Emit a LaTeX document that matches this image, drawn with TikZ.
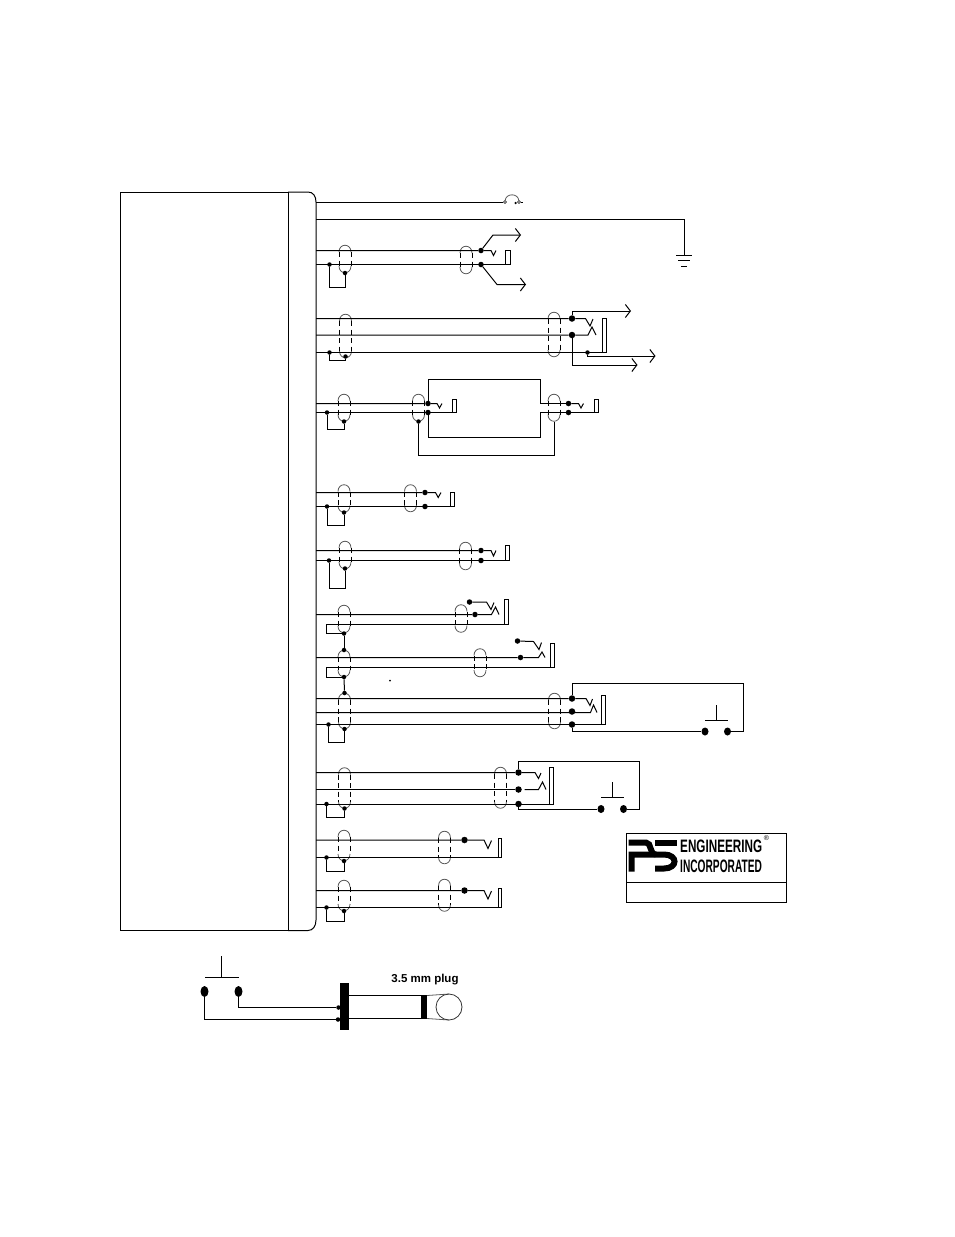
\documentclass[tikz,border=0pt]{standalone}
\usepackage{fontspec}
\usepackage{graphicx}
\setmainfont{Liberation Sans}
\usetikzlibrary{arrows.meta,shapes.geometric}

\tikzset{
  wire/.style={line width=1pt},
  feed/.style={line width=1pt,-{Straight Barb[length=5pt,width=13pt]}},
  capline/.style={line width=0.8pt,black!65},
  sideline/.style={line width=0.9pt,dash pattern=on 5pt off 3.5pt},
  smalldot/.style={circle,fill=black,inner sep=0pt,minimum size=4.5pt},
  meddot/.style={circle,fill=black,inner sep=0pt,minimum size=5.5pt},
  bigdot/.style={circle,fill=black,inner sep=0pt,minimum size=6.5pt},
  swdot/.style={ellipse,fill=black,inner sep=0pt,minimum width=7pt,minimum height=8pt},
  logostroke/.style={line width=6pt},
}

% x, top, bottom of a cable shield
\newcommand{\shield}[3]{
  \draw[capline] (#1-6,#2+7) .. controls (#1-6,#2-2) and (#1+6,#2-2) .. (#1+6,#2+7);
  \draw[capline] (#1-6,#3-7) .. controls (#1-6,#3+2) and (#1+6,#3+2) .. (#1+6,#3-7);
  \draw[sideline] (#1-6,#2+7) -- (#1-6,#3-7);
  \draw[sideline] (#1+6,#2+7) -- (#1+6,#3-7);
}

\begin{document}
\begin{tikzpicture}[x=1pt,y=-1pt]
\useasboundingbox (0,0) rectangle (954,1237);

% unit outline
\draw[wire] (120,192) rectangle (288,930.5);
\draw[wire] (288,192) -- (308,192) .. controls (313,192) and (316,196) .. (316,202)
  -- (316,920) .. controls (316,926) and (313,930.5) .. (308,930.5) -- (288,930.5);

% fuse
\coordinate (busP) at (316,202);
\node[circle,draw,inner sep=0pt,minimum size=3pt] (fuseA) at (505,202) {};
\node[circle,draw,inner sep=0pt,minimum size=3pt] (fuseB) at (519,202) {};
\coordinate (fuseEnd) at (523,202);
\node[smalldot,minimum size=2.5pt] (fuseDot) at (515.5,203) {};
\draw[wire] (busP) -- (fuseA);
\draw[wire] (fuseB) -- (fuseEnd);
\draw[capline] (fuseA) .. controls (506,193) and (518,193) .. (fuseB);

% ground
\coordinate (busG) at (316,219);
\coordinate (gndTop) at (684,255);
\draw[wire] (busG) -| (gndTop);
\draw[wire] (676,255) -- (692,255);
\draw[wire] (678,260.5) -- (690,260.5);
\draw[wire] (681,266) -- (687,266);

% row A
\shield{345}{245}{273}
\shield{466}{246}{274}
\coordinate (busA1) at (316,250.5);
\coordinate (busA2) at (316,264.5);
\node[meddot] (termA1) at (481,250.5) {};
\node[meddot] (termA2) at (481,264.5) {};
\node[smalldot] (gndA) at (329.5,264.5) {};
\node[smalldot] (shA) at (345,273) {};
\coordinate (loopA) at (345,287);
\draw[wire] (busA1) -- (termA1) -- (491,250.5) -- (493.5,255.5) -- (496,250.5);
\draw[wire] (busA2) -- (510,264.5);
\draw[wire] (505.5,250.5) rectangle (510,264.5);
\draw[wire] (gndA) |- (loopA) -- (shA);
\draw[feed] (termA1) -- (493,235) -- (521,235);
\draw[feed] (termA2) -- (497,284.5) -- (526,284.5);

% row B
\shield{345.5}{314}{358}
\shield{554}{312}{357}
\coordinate (busB1) at (316,318.5);
\coordinate (busB2) at (316,335);
\coordinate (busB3) at (316,352.5);
\node[bigdot] (termB1) at (572,318.5) {};
\node[bigdot] (termB2) at (572,335) {};
\node[smalldot] (termB3) at (587.5,352.5) {};
\node[smalldot] (gndB) at (329.5,352.5) {};
\node[smalldot] (shB) at (345.5,356.5) {};
\coordinate (loopB) at (345.5,360.5);
\draw[wire] (busB1) -- (termB1) -- (585.5,318.5) -- (590,326) -- (593,319);
\draw[wire] (busB2) -- (termB2) -- (588,335) -- (592,327) -- (596,335);
\draw[wire] (busB3) -- (606.5,352.5);
\draw[wire] (602,318.5) rectangle (606.5,352.5);
\draw[wire] (gndB) |- (loopB) -- (shB);
\draw[feed] (termB1) |- (631,311);
\draw[feed] (termB2) |- (637.5,365);
\draw[feed] (termB3) |- (655.5,356);

% row C
\shield{344}{394}{421.5}
\shield{418.5}{394}{421.5}
\shield{554}{394}{421.5}
\coordinate (busC1) at (316,403.5);
\coordinate (busC2) at (316,412.5);
\node[meddot] (termC1) at (428,403.5) {};
\node[meddot] (termC2) at (428,412.5) {};
\node[meddot] (termC3) at (568.5,403.5) {};
\node[meddot] (termC4) at (568.5,412.5) {};
\node[smalldot] (gndC) at (327,412.5) {};
\node[smalldot] (shC) at (344,421.5) {};
\node[smalldot] (shCa) at (418.5,421.5) {};
\coordinate (shCb) at (554,421.5);
\coordinate (loopC) at (344,429.5);
\coordinate (loopCb) at (554,455.5);
\draw[wire] (busC1) -- (termC1) -- (437,403.5) -- (439.5,408) -- (442,403.5);
\draw[wire] (busC2) -- (456.5,412.5);
\draw[wire] (452.5,399) rectangle (456.5,412.5);
\draw[wire] (termC1) |- (540.5,379.5) |- (termC3);
\draw[wire] (termC2) |- (540.5,437.5) |- (termC4);
\draw[wire] (termC3) -- (578.5,403.5) -- (581,408) -- (583.5,403.5);
\draw[wire] (termC4) -- (598,412.5);
\draw[wire] (594,399) rectangle (598,412.5);
\draw[wire] (gndC) |- (loopC) -- (shC);
\draw[wire] (shCa) |- (loopCb) -- (shCb);

% row D
\shield{344}{484.5}{512.5}
\shield{410.5}{484.5}{512}
\coordinate (busD1) at (316,492.5);
\coordinate (busD2) at (316,506.5);
\node[meddot] (termD1) at (425,492.5) {};
\node[meddot] (termD2) at (425,506.5) {};
\node[smalldot] (gndD) at (327,506.5) {};
\node[smalldot] (shD) at (344,512.5) {};
\coordinate (loopD) at (344,525.5);
\draw[wire] (busD1) -- (termD1) -- (435.5,492.5) -- (438.2,497.5) -- (441,492.5);
\draw[wire] (busD2) -- (454,506.5);
\draw[wire] (450.5,492.5) rectangle (454,506.5);
\draw[wire] (gndD) |- (loopD) -- (shD);

% row E
\shield{345}{541}{569}
\shield{465.5}{542}{570}
\coordinate (busE1) at (316,550.5);
\coordinate (busE2) at (316,560.5);
\node[meddot] (termE1) at (481,550.5) {};
\node[meddot] (termE2) at (481,560.5) {};
\node[smalldot] (gndE) at (329,560.5) {};
\node[smalldot] (shE) at (345,568.5) {};
\coordinate (loopE) at (345,588.5);
\draw[wire] (busE1) -- (termE1) -- (491,550.5) -- (493.5,556) -- (496,550.5);
\draw[wire] (busE2) -- (509,560.5);
\draw[wire] (505.5,545) rectangle (509,560.5);
\draw[wire] (gndE) |- (loopE) -- (shE);

% row F
\shield{344}{605}{633}
\shield{461}{604.5}{632.5}
\coordinate (busF) at (316,614.5);
\node[meddot] (termF1) at (469.5,602) {};
\node[meddot] (termF2) at (475,614.5) {};
\node[smalldot] (shF) at (344,633.5) {};
\coordinate (retF) at (326,624.5);
\draw[wire] (busF) -- (termF2) -- (491.5,614.5) -- (495.5,607) -- (499,614.5);
\draw[wire] (termF1) -- (486.5,602) -- (491,609.5) -- (494,602.5);
\draw[wire] (504.5,599.5) rectangle (508.5,624.5);
\draw[wire] (508.5,624.5) -- (retF) |- (shF);

% row G
\shield{344}{650}{677}
\shield{480}{648.5}{677}
\coordinate (busG1) at (316,657.5);
\node[meddot] (termG1) at (517.5,641) {};
\node[meddot] (termG2) at (520.5,657.5) {};
\node[smalldot] (shGt) at (344,650) {};
\node[smalldot] (shGb) at (344,677) {};
\coordinate (retG) at (326,667.5);
\draw[wire] (shF) -- (shGt);
\draw[wire] (busG1) -- (termG2) -- (538.5,657.5) -- (542,652) -- (545,657.5);
\draw[wire] (termG1) -- (533.5,641.5) -- (539,649.5) -- (541.5,642.5);
\draw[wire] (550.5,643.5) rectangle (554.5,667.5);
\draw[wire] (554.5,667.5) -- (retG) |- (shGb);
\node[smalldot,minimum size=2pt] (specG) at (390,680.5) {};

% row H
\shield{344.5}{693}{729}
\shield{554.5}{693}{729}
\coordinate (busH1) at (316,698.5);
\coordinate (busH2) at (316,712.5);
\coordinate (busH3) at (316,724.5);
\node[smalldot] (shHt) at (344.5,693) {};
\node[smalldot] (shHb) at (344.5,729) {};
\node[smalldot] (gndH) at (328.5,724.5) {};
\node[bigdot] (termH1) at (572,698.5) {};
\node[bigdot] (termH2) at (572,711.5) {};
\node[bigdot] (termH3) at (572,724.5) {};
\node[swdot] (swHa) at (705,731.5) {};
\node[swdot] (swHb) at (727.5,731.5) {};
\coordinate (loopH) at (344.5,742.5);
\draw[wire] (shGb) -- (shHt);
\draw[wire] (busH1) -- (termH1) -- (586,698.5) -- (590,705.5) -- (592.5,699);
\draw[wire] (busH2) -- (590.5,712.5) -- (593.5,705) -- (597,712.5);
\draw[wire] (busH3) -- (605.5,724.5);
\draw[wire] (601.5,695.5) rectangle (605.5,724.5);
\draw[wire] (termH1) |- (743.5,683.5) |- (swHb);
\draw[wire] (termH3) |- (swHa);
\draw[wire] (705,720.5) -- (727.5,720.5);
\draw[wire] (716,720.5) -- (716,704.5);
\draw[wire] (gndH) |- (loopH) -- (shHb);

% row I
\shield{344.5}{767.5}{808.5}
\shield{500.5}{767}{808.5}
\coordinate (busI1) at (316,772.5);
\coordinate (busI2) at (316,789.5);
\coordinate (busI3) at (316,804);
\node[bigdot] (termI1) at (518.5,772.5) {};
\node[bigdot] (termI2) at (518.5,789.5) {};
\node[bigdot] (termI3) at (518.5,804) {};
\node[smalldot] (gndI) at (326.5,804) {};
\node[smalldot] (shI) at (344.5,808.5) {};
\node[swdot] (swIa) at (601,809) {};
\node[swdot] (swIb) at (623.5,809) {};
\coordinate (loopI) at (344.5,817.5);
\draw[wire] (busI1) -- (termI1) -- (535,772.5) -- (538.5,778.5) -- (541,773);
\draw[wire] (busI2) -- (termI2);
\draw[wire] (524.5,789.5) -- (538.5,789.5) -- (542.5,782) -- (546,789.5);
\draw[wire] (busI3) -- (553.5,804);
\draw[wire] (549,767.5) rectangle (553.5,804);
\draw[wire] (termI1) |- (639.5,761) |- (swIb);
\draw[wire] (termI3) |- (swIa);
\draw[wire] (601,797.5) -- (623.5,797.5);
\draw[wire] (612,797.5) -- (612,782);
\draw[wire] (gndI) |- (loopI) -- (shI);

% row J
\shield{344}{830}{861}
\shield{444.5}{831}{864}
\coordinate (busJ1) at (316,840);
\coordinate (busJ2) at (316,857.5);
\node[bigdot] (termJ) at (464.5,840) {};
\node[smalldot] (gndJ) at (326.5,857.5) {};
\node[smalldot] (shJ) at (344,861) {};
\coordinate (loopJ) at (344,871.5);
\draw[wire] (busJ1) -- (termJ) -- (484,840) -- (488,848.5) -- (491.5,840.5);
\draw[wire] (busJ2) -- (501,857.5);
\draw[wire] (498.5,838.5) rectangle (501,857.5);
\draw[wire] (gndJ) |- (loopJ) -- (shJ);

% row K
\shield{344}{880}{911}
\shield{444.5}{879}{911.5}
\coordinate (busK1) at (316,890.5);
\coordinate (busK2) at (316,907.5);
\node[bigdot] (termK) at (464.5,890.5) {};
\node[smalldot] (gndK) at (326.5,907.5) {};
\node[smalldot] (shK) at (344,911) {};
\coordinate (loopK) at (344,921.5);
\draw[wire] (busK1) -- (termK) -- (484,890.5) -- (488,899) -- (491.5,891);
\draw[wire] (busK2) -- (501,907.5);
\draw[wire] (498.5,888.5) rectangle (501,907.5);
\draw[wire] (gndK) |- (loopK) -- (shK);

% logo box
\draw[wire] (626.5,833.5) rectangle (786.5,902.5);
\draw[wire] (626.5,882.5) -- (786.5,882.5);
\draw[logostroke] (628.5,842.5) -- (646,842.5) .. controls (652,842.5) and (649,854.5) .. (656,854.5);
\draw[logostroke] (631.5,871.5) -- (631.5,854.5) -- (664,854.5)
  .. controls (678,854.5) and (678,868.5) .. (664,868.5) -- (655,868.5);
\draw[logostroke] (655,842.5) -- (677,842.5);
\node[anchor=west,inner sep=0pt] (logoTop) at (680,846.5) {\scalebox{.65}[1]{\fontsize{18}{18}\bfseries ENGINEERING}};
\node[anchor=west,inner sep=0pt] (logoBot) at (680,866.5) {\scalebox{.565}[1]{\fontsize{18}{18}\bfseries INCORPORATED}};
\node[inner sep=0pt] (logoReg) at (766.5,838) {\fontsize{7}{7}\selectfont ®};

% plug
\node[swdot,minimum height=11pt,minimum width=8pt] (swPa) at (204.5,991.5) {};
\node[swdot,minimum height=11pt,minimum width=8pt] (swPb) at (238.5,991.5) {};
\node[smalldot] (plugA) at (338.5,1007.5) {};
\node[smalldot] (plugB) at (338,1019.5) {};
\draw[wire] (205,977.5) -- (239,977.5);
\draw[wire] (221.5,977.5) -- (221.5,956);
\draw[wire] (swPb) |- (plugA);
\draw[wire] (swPa) |- (plugB);
\fill (340,983) rectangle (349,1029.5);
\draw[wire] (349,995.5) -- (421,995.5);
\draw[wire] (349,1018.5) -- (421,1018.5);
\fill (420.5,995) rectangle (427,1019);
\draw[capline] (427,995.5) -- (449,994);
\draw[capline] (427,1018.5) -- (449,1020);
\draw[line width=0.8pt,black!80] (449,1007) circle (13);
\node[inner sep=0pt] (plugLabel) at (425,980) {\fontsize{11.5}{11.5}\bfseries 3.5 mm plug};
\end{tikzpicture}
\end{document}
